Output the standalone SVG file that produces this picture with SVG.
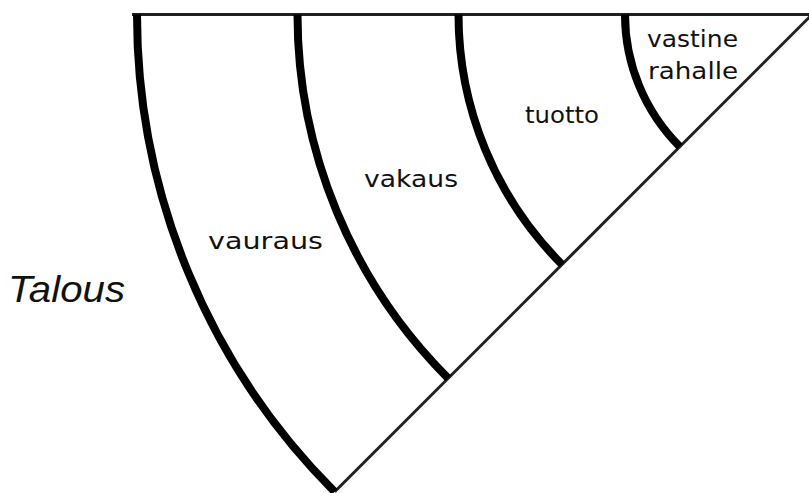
<svg xmlns="http://www.w3.org/2000/svg" width="809" height="493" viewBox="0 0 809 493">
<style>
.arc{fill:none;stroke:#000;stroke-width:8}
.ln{fill:none;stroke:#231f20;stroke-width:3}
.lbl{font-family:"DejaVu Sans","Liberation Sans",sans-serif;font-size:23px;fill:#111}
.ttl{font-family:"Liberation Sans","DejaVu Sans",sans-serif;font-size:37px;font-style:italic;fill:#111}
</style>
<rect width="809" height="493" fill="#fff"/>
<g id="connectors">
<line class="ln" x1="132" y1="14.5" x2="809" y2="14.5"/>
<line class="ln" x1="334.7" y1="491.8" x2="814" y2="12.5"/>
</g>
<g id="vauraus">
<path class="arc" d="M137 14.5 A675 675 0 0 0 334.7 491.8"/>
<text class="lbl" x="208" y="249" textLength="115" lengthAdjust="spacingAndGlyphs">vauraus</text>
</g>
<g id="vakaus">
<path class="arc" d="M297.5 14.5 A514.5 514.5 0 0 0 448.2 378.3"/>
<text class="lbl" x="364" y="187" textLength="94" lengthAdjust="spacingAndGlyphs">vakaus</text>
</g>
<g id="tuotto">
<path class="arc" d="M458.5 14.5 A353.5 353.5 0 0 0 562 264.5"/>
<text class="lbl" x="525" y="123" textLength="74" lengthAdjust="spacingAndGlyphs">tuotto</text>
</g>
<g id="vastine">
<path class="arc" d="M625 14.5 A187 187 0 0 0 679.8 146.7"/>
<text class="lbl" x="647" y="47" textLength="91" lengthAdjust="spacingAndGlyphs">vastine</text>
<text class="lbl" x="648" y="78.5" textLength="90" lengthAdjust="spacingAndGlyphs">rahalle</text>
</g>
<g id="talous">
<text class="ttl" x="8" y="302" textLength="117" lengthAdjust="spacingAndGlyphs">Talous</text>
</g>
</svg>
